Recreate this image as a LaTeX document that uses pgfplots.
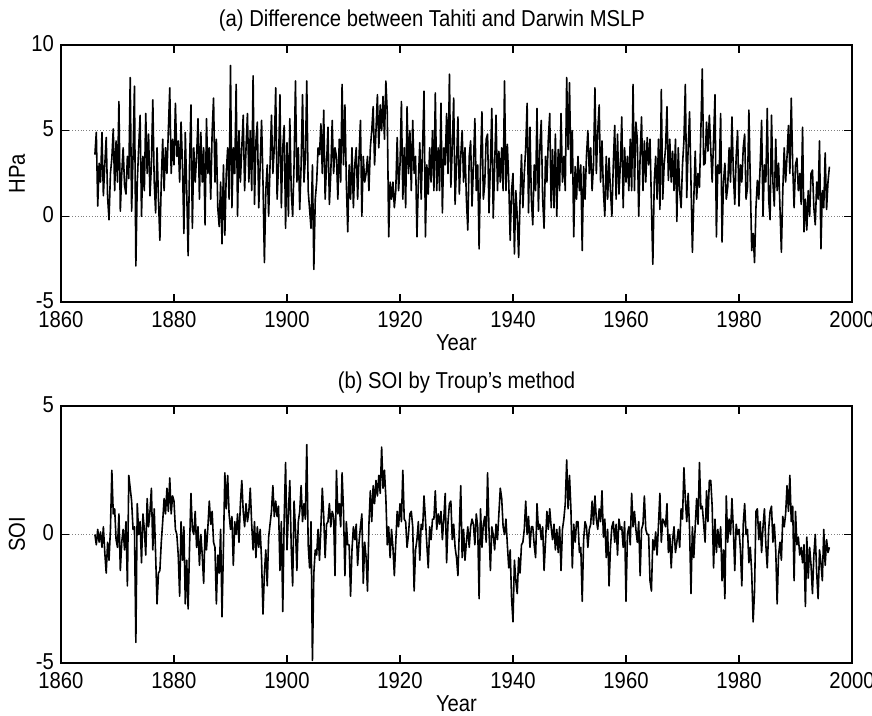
\documentclass[border=0pt]{standalone}
\usepackage{fontspec}
\setmainfont[FakeStretch=0.88]{Liberation Sans}
\usepackage{pgfplots}
\usepackage{pgfplotstable}
\pgfplotsset{compat=1.18}

\pgfplotstableread{
t a b
1866.00 3.6 0.0
1866.25 4.9 -0.4
1866.50 0.6 0.2
1866.75 3.1 -0.3
1867.00 2.0 0.1
1867.25 4.9 -0.5
1867.50 1.2 0.3
1867.75 3.0 -0.7
1868.00 4.6 -1.5
1868.25 1.1 -0.3
1868.50 -0.2 -1.0
1868.75 2.5 0.2
1869.00 3.4 2.5
1869.25 5.1 0.8
1869.50 1.5 1.0
1869.75 4.4 -0.2
1870.00 2.0 -0.5
1870.25 6.7 0.8
1870.50 0.3 -1.4
1870.75 2.5 -0.3
1871.00 4.0 0.2
1871.25 1.8 -0.6
1871.50 1.3 0.5
1871.75 3.5 -2.0
1872.00 2.2 2.3
1872.25 8.1 1.8
1872.50 0.3 1.3
1872.75 3.5 0.2
1873.00 7.6 0.3
1873.25 -2.9 -4.2
1873.50 2.0 1.2
1873.75 4.0 0.0
1874.00 5.9 0.5
1874.25 0.0 -1.1
1874.50 3.5 0.8
1874.75 1.5 0.2
1875.00 6.0 -0.8
1875.25 2.5 1.4
1875.50 4.8 0.3
1875.75 1.2 0.9
1876.00 3.0 1.8
1876.25 6.8 -0.6
1876.50 2.0 1.0
1876.75 0.2 -0.8
1877.00 4.0 -2.7
1877.25 1.0 -1.5
1877.50 -1.4 -1.4
1877.75 2.0 -0.3
1878.00 4.5 0.5
1878.25 1.5 1.4
1878.50 4.0 0.8
1878.75 2.5 1.8
1879.00 5.0 0.9
1879.25 7.5 2.2
1879.50 2.5 0.8
1879.75 4.5 1.5
1880.00 3.0 1.3
1880.25 6.6 0.2
1880.50 3.5 0.0
1880.75 4.4 -0.8
1881.00 2.0 -2.4
1881.25 5.5 0.5
1881.50 3.0 -1.0
1881.75 -1.0 0.3
1882.00 4.9 -2.7
1882.25 1.5 -1.0
1882.50 -2.3 -2.9
1882.75 3.0 -0.5
1883.00 6.5 1.6
1883.25 -0.7 0.2
1883.50 4.0 0.0
1883.75 2.0 0.9
1884.00 3.5 -0.5
1884.25 5.7 0.3
1884.50 1.0 -1.2
1884.75 4.9 0.0
1885.00 2.0 -0.8
1885.25 4.0 -1.9
1885.50 -0.5 0.2
1885.75 5.7 -0.6
1886.00 2.5 0.3
1886.25 4.0 1.3
1886.50 1.0 0.4
1886.75 4.9 0.9
1887.00 6.9 -0.3
1887.25 2.0 -0.5
1887.50 4.5 -2.7
1887.75 0.5 -0.8
1888.00 -0.6 -1.5
1888.25 2.0 0.2
1888.50 -1.6 -3.2
1888.75 3.0 -0.5
1889.00 -1.1 2.4
1889.25 2.5 1.0
1889.50 4.0 2.3
1889.75 1.0 0.8
1890.00 8.8 0.2
1890.25 0.5 0.7
1890.50 4.0 -1.2
1890.75 2.5 0.5
1891.00 7.7 0.0
1891.25 0.0 0.8
1891.50 5.0 -0.3
1891.75 2.0 1.2
1892.00 4.0 2.1
1892.25 5.9 0.9
1892.50 1.5 0.3
1892.75 4.0 1.2
1893.00 6.0 0.5
1893.25 2.0 0.9
1893.50 5.0 1.8
1893.75 1.5 0.4
1894.00 8.2 -0.6
1894.25 0.7 0.5
1894.50 4.4 -0.9
1894.75 5.5 0.3
1895.00 0.5 -0.5
1895.25 3.0 0.2
1895.50 5.6 -1.0
1895.75 2.0 -3.1
1896.00 -2.7 -1.5
1896.25 1.5 -0.6
1896.50 3.0 -2.0
1896.75 0.0 -0.1
1897.00 3.0 0.4
1897.25 5.9 0.9
1897.50 2.5 1.9
1897.75 4.0 0.7
1898.00 7.5 1.3
1898.25 1.0 0.7
1898.50 3.0 1.1
1898.75 7.1 -1.4
1899.00 0.5 0.5
1899.25 4.0 -3.0
1899.50 5.3 0.6
1899.75 -0.7 2.8
1900.00 4.3 -0.6
1900.25 0.0 0.9
1900.50 5.7 2.1
1900.75 1.5 -0.5
1901.00 0.0 -2.0
1901.25 3.0 1.3
1901.50 7.9 0.2
1901.75 2.0 -1.4
1902.00 4.0 0.5
1902.25 0.4 0.9
1902.50 3.0 1.9
1902.75 7.1 0.5
1903.00 2.0 1.2
1903.25 3.4 0.6
1903.50 7.9 3.5
1903.75 1.5 -0.4
1904.00 0.4 -1.3
1904.25 -0.7 0.5
1904.50 3.0 -4.9
1904.75 -3.1 -1.5
1905.00 1.0 -0.6
1905.25 2.0 -0.8
1905.50 4.0 0.2
1905.75 3.6 -1.0
1906.00 5.4 0.3
1906.25 2.5 1.8
1906.50 6.2 0.7
1906.75 1.0 -0.9
1907.00 3.0 0.4
1907.25 5.2 0.5
1907.50 0.7 1.2
1907.75 2.5 0.3
1908.00 5.6 0.9
1908.25 2.5 0.7
1908.50 4.0 -1.6
1908.75 3.5 2.5
1909.00 1.0 0.8
1909.25 4.5 1.2
1909.50 2.0 0.3
1909.75 7.7 2.4
1910.00 3.0 0.9
1910.25 6.5 -1.6
1910.50 2.0 0.5
1910.75 -0.9 -0.4
1911.00 3.0 -0.4
1911.25 1.0 -2.4
1911.50 4.0 -0.6
1911.75 0.5 0.3
1912.00 3.0 -0.2
1912.25 4.0 0.4
1912.50 1.0 -1.2
1912.75 3.5 -0.3
1913.00 5.6 0.3
1913.25 0.0 0.8
1913.50 3.5 -1.9
1913.75 2.0 -0.3
1914.00 2.5 -0.9
1914.25 3.5 -2.2
1914.50 1.5 0.4
1914.75 4.0 1.7
1915.00 5.0 0.5
1915.25 6.4 1.9
1915.50 3.0 1.2
1915.75 5.0 2.1
1916.00 7.1 1.5
1916.25 4.0 2.3
1916.50 6.5 1.6
1916.75 5.0 3.4
1917.00 7.0 1.8
1917.25 4.5 2.5
1917.50 7.9 1.4
1917.75 6.0 -0.4
1918.00 -1.2 0.3
1918.25 2.0 -0.9
1918.50 1.0 0.2
1918.75 2.0 -0.5
1919.00 0.5 -1.6
1919.25 1.5 -0.3
1919.50 4.6 0.9
1919.75 1.5 0.3
1920.00 3.0 1.2
1920.25 6.7 0.5
1920.50 1.0 2.5
1920.75 4.0 0.6
1921.00 0.5 0.5
1921.25 6.4 -0.5
1921.50 2.5 0.0
1921.75 5.0 0.8
1922.00 1.5 0.9
1922.25 5.6 0.3
1922.50 2.5 -2.2
1922.75 3.5 -0.6
1923.00 -1.2 -0.2
1923.25 2.0 0.5
1923.50 4.3 -1.0
1923.75 1.0 0.4
1924.00 4.0 0.2
1924.25 7.3 1.5
1924.50 -1.2 0.6
1924.75 3.0 -0.4
1925.00 1.3 -1.3
1925.25 4.0 0.3
1925.50 2.0 -0.2
1925.75 5.0 0.6
1926.00 1.5 0.6
1926.25 7.2 1.7
1926.50 1.5 0.2
1926.75 4.0 0.8
1927.00 1.5 0.4
1927.25 6.6 0.9
1927.50 0.2 -0.2
1927.75 4.0 0.6
1928.00 3.0 1.6
1928.25 6.0 -1.1
1928.50 2.5 0.5
1928.75 8.3 1.2
1929.00 1.7 1.3
1929.25 4.0 -0.2
1929.50 6.9 0.4
1929.75 0.7 -0.5
1930.00 3.0 -0.9
1930.25 5.8 -1.6
1930.50 1.3 0.2
1930.75 3.5 1.9
1931.00 5.0 -0.9
1931.25 2.0 0.2
1931.50 4.0 -1.0
1931.75 1.0 -0.3
1932.00 -0.8 0.3
1932.25 3.5 -0.5
1932.50 4.4 0.3
1932.75 0.6 0.6
1933.00 3.0 0.4
1933.25 5.7 -0.4
1933.50 1.5 0.8
1933.75 3.0 0.3
1934.00 -1.9 -2.5
1934.25 3.0 1.0
1934.50 6.1 -0.5
1934.75 1.0 0.4
1935.00 1.9 0.7
1935.25 4.5 -0.3
1935.50 4.8 2.4
1935.75 0.2 0.2
1936.00 3.0 -1.4
1936.25 6.3 0.3
1936.50 -0.1 0.0
1936.75 3.0 -0.6
1937.00 5.9 0.4
1937.25 1.5 -0.2
1937.50 3.8 0.8
1937.75 2.0 1.8
1938.00 4.0 1.4
1938.25 1.5 0.3
1938.50 7.9 0.0
1938.75 1.5 0.6
1939.00 4.2 -0.4
1939.25 2.0 -1.3
1939.50 -1.4 -0.6
1939.75 1.5 -2.5
1940.00 2.5 -3.4
1940.25 -2.2 -1.0
1940.50 1.5 -1.8
1940.75 0.0 -2.3
1941.00 -2.4 -0.9
1941.25 1.0 -1.5
1941.50 3.6 -0.4
1941.75 0.5 -0.3
1942.00 2.5 0.2
1942.25 4.0 1.3
1942.50 6.6 0.0
1942.75 0.2 0.7
1943.00 5.2 -0.5
1943.25 1.0 0.3
1943.50 -0.5 0.3
1943.75 3.0 -0.4
1944.00 1.5 -0.9
1944.25 6.3 1.2
1944.50 0.3 0.2
1944.75 4.0 0.4
1945.00 5.6 -0.2
1945.25 1.0 0.3
1945.50 -0.7 -1.4
1945.75 3.5 -0.3
1946.00 2.0 0.9
1946.25 4.5 0.2
1946.50 6.0 1.0
1946.75 0.5 0.3
1947.00 3.9 -0.2
1947.25 0.5 0.4
1947.50 4.8 -0.6
1947.75 0.0 0.2
1948.00 3.9 -0.7
1948.25 1.5 0.3
1948.50 6.0 -1.4
1948.75 2.0 0.2
1949.00 3.5 0.6
1949.25 1.5 1.2
1949.50 8.1 2.9
1949.75 3.9 1.0
1950.00 7.8 2.3
1950.25 2.5 1.0
1950.50 5.0 -1.3
1950.75 -1.2 0.4
1951.00 2.9 -0.3
1951.25 1.0 0.5
1951.50 3.5 0.5
1951.75 1.5 -0.7
1952.00 3.0 -0.5
1952.25 -2.0 -2.6
1952.50 2.9 -0.2
1952.75 1.0 0.5
1953.00 3.5 0.3
1953.25 5.0 -0.5
1953.50 2.5 0.2
1953.75 4.0 0.4
1954.00 1.5 1.3
1954.25 3.0 0.4
1954.50 7.5 1.5
1954.75 2.5 0.6
1955.00 5.0 0.2
1955.25 6.5 1.0
1955.50 2.0 0.5
1955.75 4.4 1.7
1956.00 1.5 -0.1
1956.25 0.0 0.6
1956.50 3.5 -0.9
1956.75 1.0 0.2
1957.00 3.4 -2.0
1957.25 1.5 -0.5
1957.50 0.0 0.3
1957.75 3.0 0.5
1958.00 5.3 -0.3
1958.25 1.0 0.4
1958.50 4.8 -0.8
1958.75 1.3 0.6
1959.00 3.0 0.2
1959.25 5.8 0.3
1959.50 0.5 -0.5
1959.75 4.0 0.5
1960.00 2.0 -2.6
1960.25 3.5 0.0
1960.50 1.5 0.3
1960.75 4.5 -0.4
1961.00 1.5 1.6
1961.25 7.7 0.3
1961.50 1.5 0.9
1961.75 5.5 0.2
1962.00 4.5 -0.3
1962.25 0.0 0.5
1962.50 3.5 -1.6
1962.75 5.8 0.2
1963.00 1.5 0.4
1963.25 4.4 1.5
1963.50 2.0 0.2
1963.75 4.6 0.0
1964.00 3.0 0.0
1964.25 4.5 -1.8
1964.50 0.7 -2.2
1964.75 -2.8 -0.2
1965.00 2.0 -0.6
1965.25 3.5 0.1
1965.50 1.0 -0.8
1965.75 4.5 0.4
1966.00 0.4 1.6
1966.25 7.4 -0.3
1966.50 1.0 0.6
1966.75 3.0 0.5
1967.00 4.0 0.3
1967.25 6.4 1.2
1967.50 2.1 -0.7
1967.75 4.5 0.0
1968.00 2.0 -1.3
1968.25 3.8 -0.2
1968.50 1.5 0.3
1968.75 4.5 -0.7
1969.00 -0.3 -0.3
1969.25 4.0 0.2
1969.50 1.5 -0.5
1969.75 0.5 1.0
1970.00 3.0 0.6
1970.25 4.4 2.6
1970.50 7.7 1.4
1970.75 1.1 0.5
1971.00 4.0 1.6
1971.25 6.1 0.2
1971.50 2.0 -2.3
1971.75 -2.1 0.3
1972.00 1.0 -0.9
1972.25 3.8 0.3
1972.50 1.0 1.4
1972.75 2.5 0.4
1973.00 1.7 2.8
1973.25 5.0 1.0
1973.50 8.6 1.1
1973.75 3.0 0.4
1974.00 3.1 -0.3
1974.25 5.5 1.7
1974.50 3.8 0.5
1974.75 5.9 2.1
1975.00 3.9 2.1
1975.25 2.0 1.1
1975.50 4.5 -1.3
1975.75 7.1 0.6
1976.00 -1.2 -0.7
1976.25 3.0 0.2
1976.50 2.5 -0.5
1976.75 6.0 0.3
1977.00 -1.5 -1.8
1977.25 2.0 -0.6
1977.50 3.1 -2.5
1977.75 1.0 1.5
1978.00 1.7 -0.3
1978.25 4.0 0.6
1978.50 2.0 0.0
1978.75 5.8 1.4
1979.00 2.5 0.2
1979.25 0.7 -1.4
1979.50 3.5 0.4
1979.75 5.0 0.0
1980.00 0.6 0.2
1980.25 3.0 -0.6
1980.50 2.0 -2.0
1980.75 4.0 0.4
1981.00 4.8 1.2
1981.25 1.0 0.0
1981.50 1.7 0.2
1981.75 6.2 -1.1
1982.00 2.0 -0.5
1982.25 -2.0 -1.5
1982.50 -1.0 -3.4
1982.75 -2.7 -2.2
1983.00 0.5 0.9
1983.25 2.1 1.0
1983.50 1.0 -0.2
1983.75 3.0 0.5
1984.00 5.6 -0.7
1984.25 0.0 0.3
1984.50 3.0 1.0
1984.75 2.0 -0.4
1985.00 6.3 -1.3
1985.25 1.0 0.2
1985.50 -0.2 0.9
1985.75 5.9 1.1
1986.00 2.0 -0.3
1986.25 0.6 0.4
1986.50 4.5 -0.6
1986.75 1.5 -2.7
1987.00 3.1 -0.8
1987.25 0.5 -0.3
1987.50 -2.1 -1.0
1987.75 1.5 0.7
1988.00 4.0 0.3
1988.25 2.0 0.8
1988.50 3.5 1.9
1988.75 5.3 0.9
1989.00 2.5 2.3
1989.25 6.9 0.5
1989.50 3.0 1.1
1989.75 0.5 -1.8
1990.00 3.0 0.9
1990.25 3.4 -0.4
1990.50 1.5 -0.1
1990.75 2.5 -0.8
1991.00 0.7 -0.5
1991.25 5.2 -1.1
1991.50 -0.9 -0.4
1991.75 1.0 -2.8
1992.00 -0.8 -0.1
1992.25 1.5 -1.7
1992.50 0.0 -0.5
1992.75 2.5 -1.2
1993.00 2.7 -2.3
1993.25 0.5 -0.8
1993.50 -0.5 0.0
1993.75 2.0 -1.5
1994.00 1.0 -2.5
1994.25 4.4 -0.6
1994.50 -1.9 -1.1
1994.75 1.5 -1.8
1995.00 0.5 0.2
1995.25 3.7 -1.2
1995.50 0.4 -0.2
1995.75 2.0 -0.7
1996.00 2.9 -0.5
}\soidata

\pgfplotsset{
  panel/.style={
    scale only axis,
    width=395.5pt, height=128.5pt,
    anchor=south west,
    xmin=1860, xmax=2000,
    xtick={1860,1880,...,2000},
    tick align=inside,
    major tick length=4pt,
    /pgf/number format/1000 sep={},
    /pgf/number format/assume math mode=true,
    font=\fontsize{11.5}{13}\selectfont,
    ticklabel style={font=\fontsize{11.5}{13}\selectfont},
    xticklabel style={yshift=-1.2pt},
    yticklabel style={yshift=0.8pt},
    axis line style={black, line width=0.55pt},
    every tick/.style={black, line width=0.55pt},
    ymajorgrids,
    major grid style={densely dotted, gray, line width=0.4pt},
    xlabel={Year},
    xlabel style={at={(axis description cs:0.5,-0.188)}, anchor=base},
    ylabel style={at={(axis description cs:-0.0556,0.5)}, anchor=center},
  }
}

\begin{document}
\begin{tikzpicture}
\path[use as bounding box] (0,0) rectangle (436pt,358pt);

\begin{axis}[panel,
  at={(30.5pt,207pt)},
  ymin=-5, ymax=10, ytick={-5,0,5,10},
  ylabel={HPa},
  title={(a) Difference between Tahiti and Darwin MSLP},
  every axis title/.style={at={(axis description cs:0.469,1)}, anchor=base, yshift=9pt},
]
\addplot[black, line width=0.8pt, line join=round] table[x=t, y=a] {\soidata};
\end{axis}

\begin{axis}[panel,
  at={(30.5pt,26.5pt)},
  ymin=-5, ymax=5, ytick={-5,0,5},
  ylabel={SOI},
  title={(b) SOI by Troup's method},
  every axis title/.style={at={(axis description cs:0.5,1)}, anchor=base, yshift=9pt},
]
\addplot[black, line width=0.8pt, line join=round] table[x=t, y=b] {\soidata};
\end{axis}
\end{tikzpicture}
\end{document}
